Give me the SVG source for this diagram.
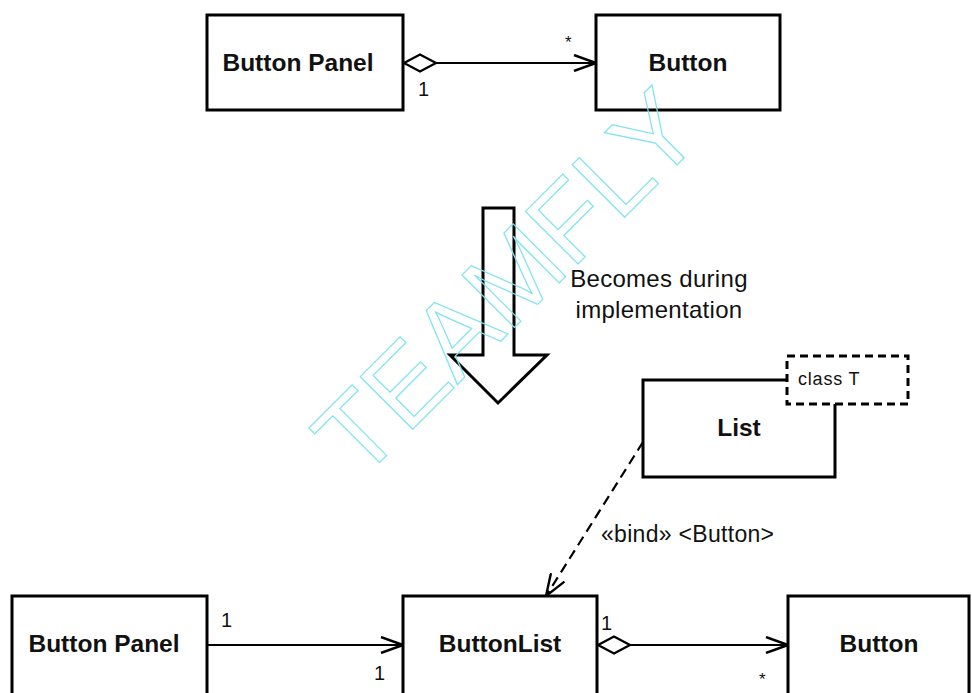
<svg xmlns="http://www.w3.org/2000/svg" width="972" height="693" viewBox="0 0 972 693">
<defs>
<style>
.box{fill:#fff;stroke:#000;stroke-width:3}
.lbl{font-family:"Liberation Sans",Arial,sans-serif;font-weight:bold;font-size:24.5px;fill:#111;text-anchor:middle}
.txt{font-family:"Liberation Sans",Arial,sans-serif;font-size:20px;fill:#111}
.big{font-size:24px;letter-spacing:0.3px;text-anchor:middle}
.bind{font-size:23px;letter-spacing:0.3px}
.cls{font-size:18px;letter-spacing:0.8px}
.star{font-size:17px}
.con{fill:none;stroke:#000;stroke-width:2.2}
.wm{font-family:"Liberation Sans",Arial,sans-serif;font-size:108px;fill:none;stroke:#7fe3f0;stroke-width:1.2;text-anchor:middle}
</style>
<marker id="open" viewBox="0 0 24 18" refX="23" refY="9" markerWidth="24" markerHeight="18" markerUnits="userSpaceOnUse" orient="auto">
<path d="M1,1 L23,9 L1,17" fill="none" stroke="#000" stroke-width="2.4"/>
</marker>
<marker id="dia" viewBox="0 0 34 20" refX="1" refY="10" markerWidth="34" markerHeight="20" markerUnits="userSpaceOnUse" orient="auto">
<path d="M1,10 L17,1.5 L33,10 L17,18.5 Z" fill="#fff" stroke="#000" stroke-width="2.4"/>
</marker>
</defs>
<rect width="972" height="693" fill="#fff"/>

<g id="top-button-panel"><rect class="box" x="207" y="15" width="196" height="95"/><text class="lbl" x="298" y="71">Button Panel</text></g>
<g id="top-button"><rect class="box" x="596" y="15" width="184" height="95"/><text class="lbl" x="688" y="71">Button</text></g>

<g id="transform-arrow">
<path d="M483,208 L514,208 L514,355 L547,355 L498,403 L450,355 L483,355 Z" fill="#fff" stroke="#000" stroke-width="3" stroke-linejoin="miter"/>
<text class="txt big" x="659" y="287">Becomes during</text>
<text class="txt big" x="659" y="318">implementation</text>
</g>

<g id="list">
<path d="M787,380 L643,380 L643,477 L835,477 L835,404" class="box"/>
<text class="lbl" x="739" y="436">List</text>
<rect x="787" y="356" width="121" height="48" fill="#fff" stroke="#000" stroke-width="3" stroke-dasharray="8,5"/>
<text class="txt cls" x="798" y="385">class T</text>
</g>

<g id="bottom-button-panel"><rect class="box" x="12" y="596" width="195" height="110"/><text class="lbl" x="104" y="652">Button Panel</text></g>
<g id="buttonlist"><rect class="box" x="403" y="596" width="194" height="110"/><text class="lbl" x="500" y="652">ButtonList</text></g>
<g id="bottom-button"><rect class="box" x="788" y="596" width="181" height="110"/><text class="lbl" x="879" y="652">Button</text></g>

<g id="connectors">
<line class="con" x1="404" y1="63" x2="596" y2="63" marker-start="url(#dia)" marker-end="url(#open)"/>
<line class="con" x1="208" y1="645" x2="403" y2="645" marker-end="url(#open)"/>
<line class="con" x1="598" y1="645" x2="788" y2="645" marker-start="url(#dia)" marker-end="url(#open)"/>
<line class="con" x1="643" y1="442" x2="546" y2="596" stroke-dasharray="10,6" stroke-width="3" marker-end="url(#open)"/>
<text class="txt star" x="565" y="48">*</text>
<text class="txt" x="418" y="96">1</text>
<text class="txt bind" x="601" y="542">«bind» &lt;Button&gt;</text>
<text class="txt" x="221" y="627">1</text>
<text class="txt" x="374" y="680">1</text>
<text class="txt" x="601" y="630">1</text>
<text class="txt star" x="759" y="685">*</text>
</g>

<g id="watermark"><text class="wm" transform="translate(533,309) rotate(-45)" x="0" y="0">TEAMFLY</text></g>
</svg>
